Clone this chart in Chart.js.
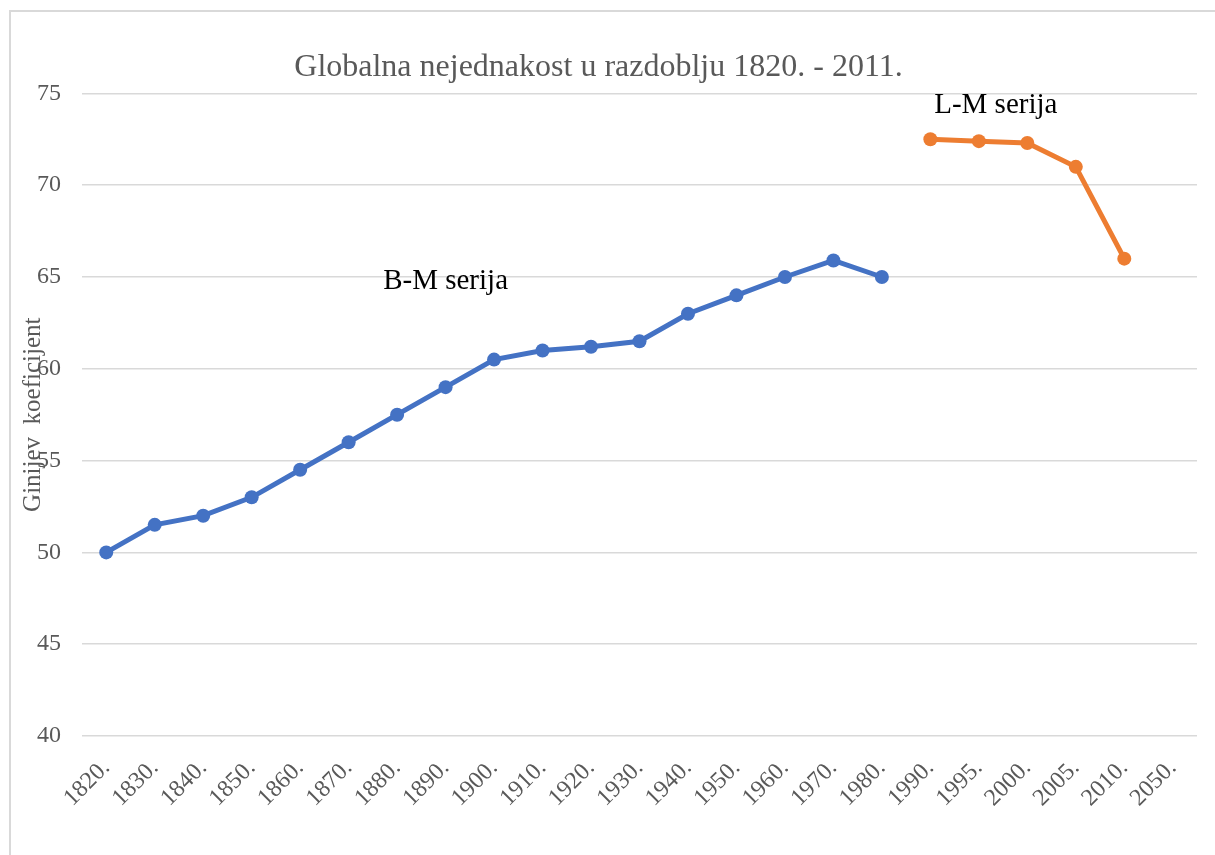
<!DOCTYPE html>
<html>
<head>
<meta charset="utf-8">
<script src="https://cdn.jsdelivr.net/npm/chart.js@4/dist/chart.umd.min.js"></script>
<style>
  html, body { margin: 0; padding: 0; background: #fff; }
  #wrap { position: relative; width: 1215px; height: 855px; overflow: hidden; }
  #frame {
    position: absolute; left: 9px; top: 10px; width: 1300px; height: 900px;
    border-top: 2px solid #d9d9d9; border-left: 2px solid #d9d9d9;
  }
  canvas { position: absolute; left: 0; top: 0; }
</style>
</head>
<body>
<div id="wrap">
  <div id="frame"></div>
  <canvas id="chart" width="1215" height="855"></canvas>
</div>
<script>
'use strict';

// ── Data ─────────────────────────────────────────────
const years = ['1820.', '1830.', '1840.', '1850.', '1860.', '1870.', '1880.', '1890.', '1900.',
               '1910.', '1920.', '1930.', '1940.', '1950.', '1960.', '1970.', '1980.',
               '1990.', '1995.', '2000.', '2005.', '2010.', '2050.'];

const bmSeries = [50, 51.5, 52, 53, 54.5, 56, 57.5, 59, 60.5, 61, 61.2, 61.5, 63, 64, 65, 65.9, 65,
                  null, null, null, null, null, null];

const lmSeries = [null, null, null, null, null, null, null, null, null, null, null, null, null,
                  null, null, null, null, 72.5, 72.4, 72.3, 71, 66, null];

const yTicks = [40, 45, 50, 55, 60, 65, 70, 75];

// series labels placed next to the lines: text, category index, value
const noteText  = ['B-M serija', 'L-M serija'];
const noteIndex = [7, 18.35];
const noteValue = [64.75, 74.35];

const FONT = '"Liberation Serif", "Times New Roman", serif';
const GREY = '#595959';

// ── Text drawn on top of the plot ────────────────────
const extraText = {
    id: 'extraText',
    afterDraw(chart) {
        const { ctx, scales: { x, y }, chartArea } = chart;
        ctx.save();
        ctx.fillStyle = '#000';
        ctx.font = '29px ' + FONT;
        ctx.textAlign = 'center';
        ctx.textBaseline = 'middle';
        noteText.forEach((t, i) => {
            ctx.fillText(t, x.getPixelForValue(noteIndex[i]), y.getPixelForValue(noteValue[i]));
        });

        // y-axis title, sits over the tick labels like the original
        ctx.fillStyle = GREY;
        ctx.font = '25px ' + FONT;
        ctx.translate(33, (chartArea.top + chartArea.bottom) / 2);
        ctx.rotate(-Math.PI / 2);
        ctx.fillText('Ginijev  koeficijent', 0, 0);
        ctx.restore();
    }
};

Chart.defaults.font.family = FONT;

new Chart(document.getElementById('chart'), {
    type: 'line',
    data: {
        labels: years,
        datasets: [
            {
                label: 'B-M serija',
                data: bmSeries,
                borderColor: '#4472C4', backgroundColor: '#4472C4',
                borderWidth: 5, pointRadius: 7, pointBorderWidth: 0,
                tension: 0, spanGaps: false,
            },
            {
                label: 'L-M serija',
                data: lmSeries,
                borderColor: '#ED7D31', backgroundColor: '#ED7D31',
                borderWidth: 5, pointRadius: 7, pointBorderWidth: 0,
                tension: 0, spanGaps: false,
            },
        ],
    },
    options: {
        responsive: false,
        animation: false,
        layout: { padding: { left: 0, right: 18, top: 0, bottom: 0 } },
        plugins: {
            legend: { display: false },
            tooltip: { enabled: false },
            title: {
                display: true,
                text: 'Globalna nejednakost u razdoblju 1820. - 2011.',
                color: GREY,
                font: { size: 32, weight: 'normal' },
                padding: { top: 48, bottom: 7 },
            },
        },
        scales: {
            x: {
                offset: true,
                grid: { display: false, drawTicks: false },
                border: { display: false },
                ticks: {
                    color: GREY, font: { size: 24 },
                    maxRotation: 45, minRotation: 45, autoSkip: false,
                    padding: 18,
                },
                afterFit: s => { s.height = 119; },
            },
            y: {
                min: 40, max: 75,
                afterBuildTicks: s => { s.ticks = yTicks.map(v => ({ value: v })); },
                grid: { color: '#d9d9d9', lineWidth: 1.5, drawTicks: false },
                border: { display: false },
                ticks: { color: GREY, font: { size: 24 }, padding: 21 },
                afterFit: s => { s.width = 82; },
            },
        },
    },
    plugins: [extraText],
});
</script>
</body>
</html>
